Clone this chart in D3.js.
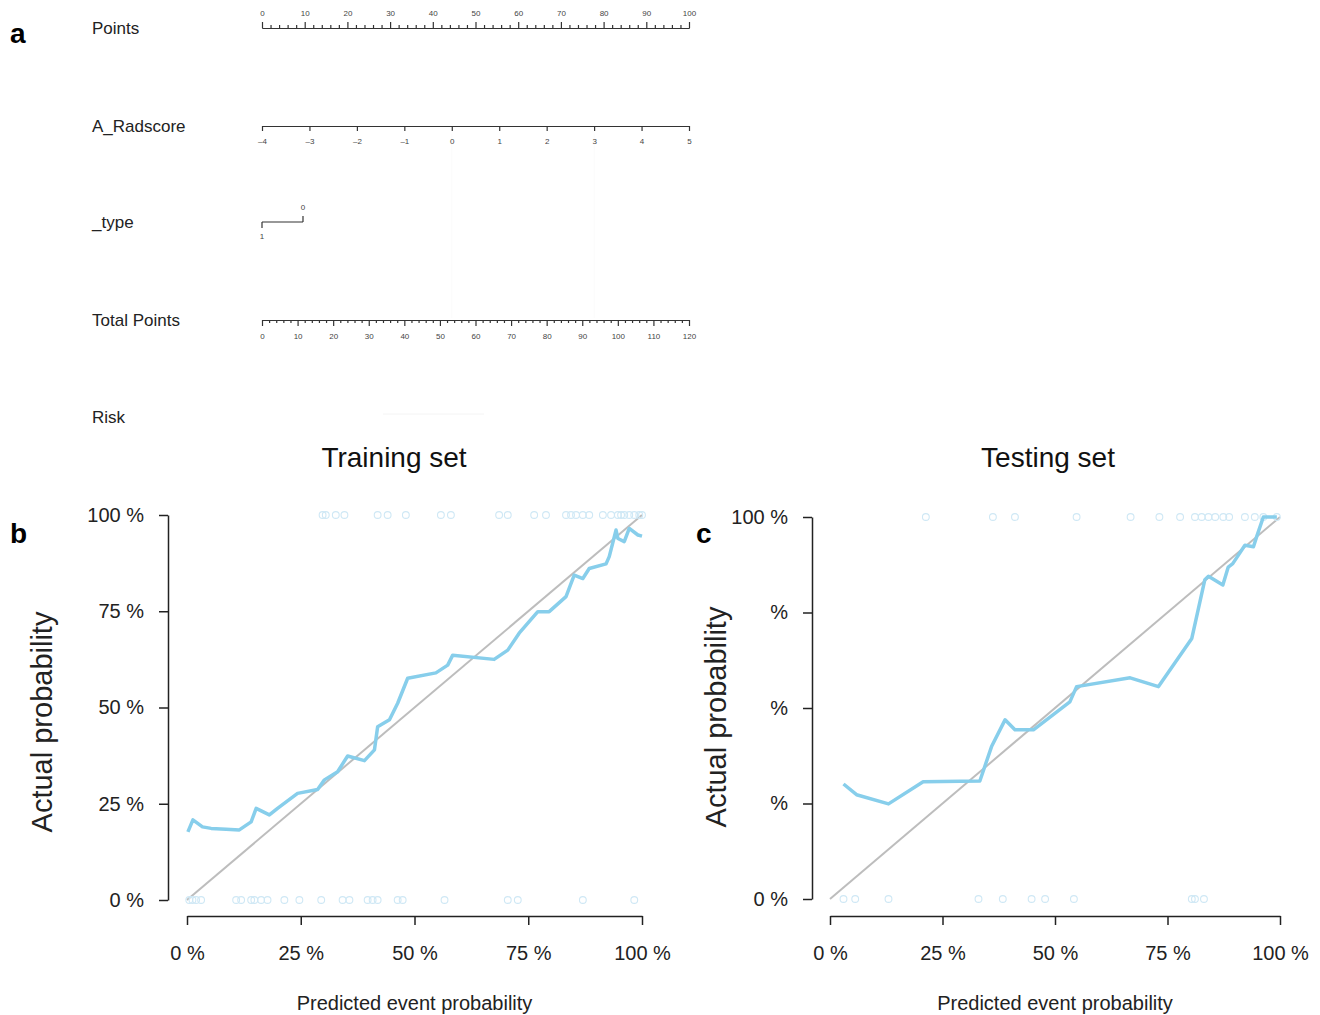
<!DOCTYPE html>
<html>
<head>
<meta charset="utf-8">
<style>
    body { margin: 0; background: white; }
    svg { display: block; font-family: "Liberation Sans", Arial, sans-serif; }
    .nomo-label { font-size: 17px; fill: #222; }
    .nomo .tick text { font-size: 8px; fill: #444; font-family: "Liberation Sans", Arial, sans-serif; }
    .nomo path, .nomo line { stroke: #333; stroke-width: 1.2; }
    .cal .tick text { font-size: 20px; fill: #222; font-family: "Liberation Sans", Arial, sans-serif; }
    .cal path, .cal line { stroke: #222; stroke-width: 1.5; }
</style>
</head>
<body>
<svg width="1320" height="1015"></svg>

<script src="https://d3js.org/d3.v7.min.js"></script>
<script>
    // ---- nomogram scales ----
    const pointsMajor = [0, 10, 20, 30, 40, 50, 60, 70, 80, 90, 100]
    const pointsMinor = [2, 4, 6, 8, 12, 14, 16, 18, 22, 24, 26, 28, 32, 34, 36, 38, 42, 44, 46, 48,
        52, 54, 56, 58, 62, 64, 66, 68, 72, 74, 76, 78, 82, 84, 86, 88, 92, 94, 96, 98]
    const radscoreTicks = [-4, -3, -2, -1, 0, 1, 2, 3, 4, 5]
    const typeLevels = ["1", "0"]
    const typePoints = [0, 9.6]
    const totalMajor = [0, 10, 20, 30, 40, 50, 60, 70, 80, 90, 100, 110, 120]
    const totalMinor = [2, 4, 6, 8, 12, 14, 16, 18, 22, 24, 26, 28, 32, 34, 36, 38, 42, 44, 46, 48,
        52, 54, 56, 58, 62, 64, 66, 68, 72, 74, 76, 78, 82, 84, 86, 88, 92, 94, 96, 98,
        102, 104, 106, 108, 112, 114, 116, 118]
    const nomoRows = ["Points", "A_Radscore", "_type", "Total Points", "Risk"]

    // ---- calibration curves (percent) ----
    const trainPred = [0.2, 1.3, 3.4, 5.3, 8.6, 11.5, 14.1, 15.2, 18.1, 19.9, 24.3, 28.7, 30.2, 33.1, 35.3,
        39.0, 41.2, 41.9, 44.5, 46.3, 48.5, 54.7, 57.3, 58.4, 67.5, 70.5, 73.0, 77.1, 79.6, 83.3,
        85.1, 87.0, 88.4, 92.1, 92.8, 94.3, 94.7, 96.1, 97.2, 99.1, 100]
    const trainObs = [17.7, 20.8, 19.0, 18.6, 18.4, 18.2, 20.3, 23.8, 22.1, 23.8, 27.7, 28.7, 31.2, 33.3, 37.4,
        36.2, 39.0, 45.0, 46.8, 51.1, 57.6, 59.0, 61.0, 63.6, 62.5, 64.9, 69.3, 74.9, 74.9, 78.8,
        84.4, 83.5, 86.1, 87.3, 89.2, 96.1, 93.9, 93.1, 96.5, 94.8, 94.5]
    const trainRugTop = [29.8, 30.5, 32.7, 34.6, 41.9, 44.1, 48.1, 55.8, 58.0, 68.6, 70.5, 76.3, 78.9,
        83.3, 84.4, 85.5, 87.0, 88.4, 91.4, 93.2, 94.7, 95.4, 96.1, 97.2, 98.3, 99.4, 100]
    const trainRugBottom = [0.5, 1.2, 2.0, 3.1, 10.8, 11.9, 14.1, 14.8, 16.3, 17.7, 21.4, 24.7, 29.5,
        34.2, 35.7, 39.7, 40.8, 41.9, 46.3, 47.4, 56.6, 70.5, 72.7, 87.0, 98.3]

    const testPred = [3.0, 5.9, 13.0, 20.7, 33.3, 35.9, 38.9, 41.1, 45.2, 53.3, 54.8, 66.7, 73.0, 80.4,
        83.3, 84.1, 87.3, 88.5, 89.5, 92.2, 94.1, 94.8, 96.3, 99.3]
    const testObs = [30.1, 27.3, 24.9, 30.7, 30.9, 39.9, 46.9, 44.3, 44.3, 51.6, 55.6, 57.9, 55.6, 68.2,
        83.6, 84.5, 82.2, 86.9, 87.8, 92.6, 92.2, 94.8, 100, 100]
    const testRugTop = [21.3, 36.2, 41.1, 54.8, 66.8, 73.2, 77.8, 81.1, 82.6, 84.1, 85.6, 87.4, 88.7,
        92.2, 94.4, 96.3, 99.3]
    const testRugBottom = [3.0, 5.6, 13.0, 33.0, 38.4, 44.8, 47.8, 54.2, 80.4, 81.1, 83.1]

    const calTicks = [0, 25, 50, 75, 100]
    const trainYLabels = ["0 %", "25 %", "50 %", "75 %", "100 %"]
    const testYLabels = ["0 %", "%", "%", "%", "100 %"]
    const xLabels = ["0 %", "25 %", "50 %", "75 %", "100 %"]

    let svg = d3.select("svg")

    // ================= panel a : nomogram =================
    let nomoX0 = 262, nomoX1 = 689
    let pts = d3.scaleLinear().domain([0, 100]).range([nomoX0, nomoX1])
    let rad = d3.scaleLinear().domain([-4, 5]).range([nomoX0, nomoX1])
    let tot = d3.scaleLinear().domain([0, 120]).range([nomoX0, nomoX1])
    let rowY = [28, 126, 222, 320, 417]

    svg.append("g").selectAll("text")
        .data(nomoRows)
        .join("text")
        .attr("class", "nomo-label")
        .attr("x", 92)
        .attr("y", (d, i) => rowY[i])
        .attr("dy", "0.35em")
        .text(d => d)

    // faint guide lines seen in the original figure
    svg.append("g").selectAll("line")
        .data([0, 3])
        .join("line")
        .attr("x1", d => rad(d)).attr("x2", d => rad(d))
        .attr("y1", 134).attr("y2", 318)
        .style("stroke", "#fbfbfb")
    svg.append("line")
        .attr("x1", 383).attr("x2", 484).attr("y1", 414).attr("y2", 414)
        .style("stroke", "#f4f4f4")

    // Points axis (ticks above)
    svg.append("g").attr("class", "nomo")
        .attr("transform", `translate(0,${rowY[0]})`)
        .call(d3.axisTop(pts).tickValues(pointsMinor).tickSize(3).tickSizeOuter(0).tickFormat(""))
    svg.append("g").attr("class", "nomo")
        .attr("transform", `translate(0,${rowY[0]})`)
        .call(d3.axisTop(pts).tickValues(pointsMajor).tickSize(6).tickSizeOuter(0).tickPadding(6))

    // A_Radscore axis (ticks below)
    svg.append("g").attr("class", "nomo")
        .attr("transform", `translate(0,${rowY[1]})`)
        .call(d3.axisBottom(rad).tickValues(radscoreTicks).tickSize(5).tickSizeOuter(0).tickPadding(7)
            .tickFormat(d => d < 0 ? "\u2013" + Math.abs(d) : d))

    // _type axis
    let typeG = svg.append("g").attr("class", "nomo")
    typeG.append("line")
        .attr("x1", pts(typePoints[0])).attr("x2", pts(typePoints[1]))
        .attr("y1", rowY[2]).attr("y2", rowY[2])
    typeG.append("line")
        .attr("x1", pts(typePoints[0])).attr("x2", pts(typePoints[0]))
        .attr("y1", rowY[2]).attr("y2", rowY[2] + 6)
    typeG.append("line")
        .attr("x1", pts(typePoints[1])).attr("x2", pts(typePoints[1]))
        .attr("y1", rowY[2]).attr("y2", rowY[2] - 6)
    typeG.append("text")
        .attr("x", pts(typePoints[0])).attr("y", rowY[2] + 17)
        .attr("text-anchor", "middle").style("font-size", "8px").style("fill", "#444")
        .text(typeLevels[0])
    typeG.append("text")
        .attr("x", pts(typePoints[1])).attr("y", rowY[2] - 12)
        .attr("text-anchor", "middle").style("font-size", "8px").style("fill", "#444")
        .text(typeLevels[1])

    // Total Points axis (ticks below)
    svg.append("g").attr("class", "nomo")
        .attr("transform", `translate(0,${rowY[3]})`)
        .call(d3.axisBottom(tot).tickValues(totalMinor).tickSize(3).tickSizeOuter(0).tickFormat(""))
    svg.append("g").attr("class", "nomo")
        .attr("transform", `translate(0,${rowY[3]})`)
        .call(d3.axisBottom(tot).tickValues(totalMajor).tickSize(6).tickSizeOuter(0).tickPadding(7))

    // panel letters
    svg.append("text").attr("x", 10).attr("y", 43)
        .style("font-size", "28px").style("font-weight", "bold").text("a")
    svg.append("text").attr("x", 10).attr("y", 543)
        .style("font-size", "28px").style("font-weight", "bold").text("b")
    svg.append("text").attr("x", 696).attr("y", 543)
        .style("font-size", "28px").style("font-weight", "bold").text("c")

    // ================= calibration panels =================
    function drawCal(opt) {
        let x = d3.scaleLinear().domain([0, 100]).range([opt.x0, opt.x1])
        let y = d3.scaleLinear().domain([0, 100]).range([opt.yBot, opt.yTop])

        svg.append("g").attr("class", "cal")
            .attr("transform", `translate(${opt.yAxisX},0)`)
            .call(d3.axisLeft(y).tickValues(calTicks).tickSize(9).tickSizeOuter(0).tickPadding(15)
                .tickFormat((d, i) => opt.yLabels[i]))

        svg.append("g").attr("class", "cal")
            .attr("transform", `translate(0,${opt.xAxisY})`)
            .call(d3.axisBottom(x).tickValues(calTicks).tickSize(9).tickSizeOuter(0).tickPadding(21)
                .tickFormat((d, i) => xLabels[i]))

        // ideal line
        svg.append("line")
            .attr("x1", x(0)).attr("y1", y(0))
            .attr("x2", x(100)).attr("y2", y(100))
            .style("stroke", "#bdbdbd")
            .style("stroke-width", 2)

        // rug circles
        let rug = svg.append("g")
        rug.selectAll(".top")
            .data(opt.rugTop)
            .join("circle")
            .attr("cx", d => x(d)).attr("cy", y(100)).attr("r", 3.4)
            .style("fill", "none").style("stroke", "#cfe8f5").style("stroke-width", 1.1)
        rug.selectAll(".bot")
            .data(opt.rugBottom)
            .join("circle")
            .attr("cx", d => x(d)).attr("cy", y(0)).attr("r", 3.4)
            .style("fill", "none").style("stroke", "#cfe8f5").style("stroke-width", 1.1)

        let pts = opt.pred.map((p, i) => [p, opt.obs[i]])
        svg.append("path")
            .datum(pts)
            .attr("d", d3.line().x(d => x(d[0])).y(d => y(d[1])))
            .style("fill", "none")
            .style("stroke", "#87ceeb")
            .style("stroke-width", 3.5)
            .style("stroke-linejoin", "round")

        svg.append("text")
            .attr("x", opt.titleX).attr("y", 457).attr("dy", "0.35em")
            .attr("text-anchor", "middle")
            .style("font-size", "28px").style("fill", "#111")
            .text(opt.title)

        svg.append("text")
            .attr("x", (opt.x0 + opt.x1) / 2).attr("y", 1003).attr("dy", "0.35em")
            .attr("text-anchor", "middle")
            .style("font-size", "20px").style("fill", "#222")
            .text("Predicted event probability")

        svg.append("text")
            .attr("transform", `translate(${opt.ylabX},${opt.ylabY}) rotate(-90)`)
            .attr("dy", "0.35em")
            .attr("text-anchor", "middle")
            .style("font-size", "29px").style("fill", "#222")
            .text("Actual probability")
    }

    drawCal({
        x0: 187, x1: 642, yTop: 515, yBot: 900, yAxisX: 168, xAxisY: 916,
        yLabels: trainYLabels, pred: trainPred, obs: trainObs,
        rugTop: trainRugTop, rugBottom: trainRugBottom,
        title: "Training set", titleX: 394, ylabX: 42, ylabY: 722
    })

    drawCal({
        x0: 830, x1: 1280, yTop: 517, yBot: 899, yAxisX: 812, xAxisY: 916,
        yLabels: testYLabels, pred: testPred, obs: testObs,
        rugTop: testRugTop, rugBottom: testRugBottom,
        title: "Testing set", titleX: 1048, ylabX: 716, ylabY: 717
    })
</script>
</body>
</html>
